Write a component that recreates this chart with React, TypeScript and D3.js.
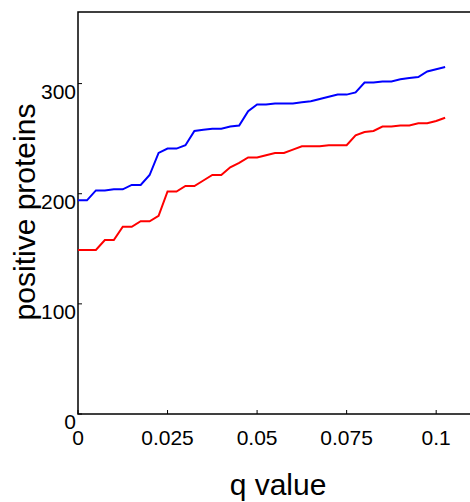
import { useEffect, useRef } from "react";
import * as d3 from "d3";

// q value thresholds (x) and the number of positive proteins for each curve
const qValues = [
    0, 0.0025, 0.005, 0.0075, 0.01, 0.0125, 0.015, 0.0175, 0.02, 0.0225,
    0.025, 0.0275, 0.03, 0.0325, 0.035, 0.0375, 0.04, 0.0425, 0.045, 0.0475,
    0.05, 0.0525, 0.055, 0.0575, 0.06, 0.0625, 0.065, 0.0675, 0.07, 0.0725,
    0.075, 0.0775, 0.08, 0.0825, 0.085, 0.0875, 0.09, 0.0925, 0.095, 0.0975,
    0.1, 0.1025
];

const blueSeries = [
    194, 194, 203, 203, 204, 204, 208, 208, 217, 237,
    241, 241, 244, 257, 258, 259, 259, 261, 262, 275,
    281, 281, 282, 282, 282, 283, 284, 286, 288, 290,
    290, 292, 301, 301, 302, 302, 304, 305, 306, 311,
    313, 315
];

const redSeries = [
    149, 149, 149, 158, 158, 170, 170, 175, 175, 180,
    202, 202, 207, 207, 212, 217, 217, 224, 228, 233,
    233, 235, 237, 237, 240, 243, 243, 243, 244, 244,
    244, 253, 256, 257, 261, 261, 262, 262, 264, 264,
    266, 269
];

const xTicks = [0, 0.025, 0.05, 0.075, 0.1];
const xTickLabels = ["0", "0.025", "0.05", "0.075", "0.1"];
const yTicks = [0, 100, 200, 300];
const yTickLabels = ["0", "100", "200", "300"];

const FONT = "'Liberation Sans', Arial, Helvetica, sans-serif";

const App = () => {
    const container = useRef<HTMLDivElement>(null);

    useEffect(() => {
        const el = container.current;
        if (!el) return;
        el.innerHTML = "";

        const width = 470, height = 502;
        const left = 78, right = 472, top = 12, bottom = 414;

        const svg = d3.select(el)
            .append("svg")
            .attr("width", width)
            .attr("height", height)
            .style("display", "block")
            .style("font-family", FONT);

        const x = d3.scaleLinear().domain([0, 0.11]).range([left, right]);
        const y = d3.scaleLinear().domain([0, 365]).range([bottom, top]);

        // frame
        svg.append("rect")
            .attr("x", left)
            .attr("y", top)
            .attr("width", right - left)
            .attr("height", bottom - top)
            .attr("fill", "none")
            .attr("stroke", "#000")
            .attr("stroke-width", 1.5);

        // inward ticks
        svg.selectAll("line.xtick")
            .data(xTicks)
            .join("line")
            .attr("class", "xtick")
            .attr("x1", (d) => x(d)).attr("x2", (d) => x(d))
            .attr("y1", bottom).attr("y2", bottom - 4)
            .attr("stroke", "#000").attr("stroke-width", 1);

        svg.selectAll("line.ytick")
            .data(yTicks)
            .join("line")
            .attr("class", "ytick")
            .attr("x1", left).attr("x2", left + 4)
            .attr("y1", (d) => y(d)).attr("y2", (d) => y(d))
            .attr("stroke", "#000").attr("stroke-width", 1);

        svg.selectAll("text.xlabel")
            .data(xTicks)
            .join("text")
            .attr("class", "xlabel")
            .attr("x", (d) => x(d))
            .attr("y", bottom + 31)
            .attr("text-anchor", "middle")
            .style("font-size", "21px")
            .text((d, i) => xTickLabels[i]);

        svg.selectAll("text.ylabel")
            .data(yTicks)
            .join("text")
            .attr("class", "ylabel")
            .attr("x", left - 2)
            .attr("y", (d) => y(d) + 15)
            .attr("text-anchor", "end")
            .style("font-size", "21px")
            .text((d, i) => yTickLabels[i]);

        // curves
        const line = d3.line<number>()
            .x((d, i) => x(qValues[i]))
            .y((d) => y(d));

        svg.append("path")
            .datum(blueSeries)
            .attr("d", line)
            .attr("fill", "none")
            .attr("stroke", "#0000ff")
            .attr("stroke-width", 2);

        svg.append("path")
            .datum(redSeries)
            .attr("d", line)
            .attr("fill", "none")
            .attr("stroke", "#ff0000")
            .attr("stroke-width", 2);

        // axis titles
        svg.append("text")
            .attr("x", 278)
            .attr("y", 495)
            .attr("text-anchor", "middle")
            .style("font-size", "30px")
            .text("q value");

        svg.append("text")
            .attr("transform", "translate(35,212) rotate(-90)")
            .attr("text-anchor", "middle")
            .style("font-size", "30px")
            .text("positive proteins");
    }, []);

    return (
        <div ref={container} style={{ position: "absolute", left: 0, top: 0 }}></div>
    );
};

export default App;
